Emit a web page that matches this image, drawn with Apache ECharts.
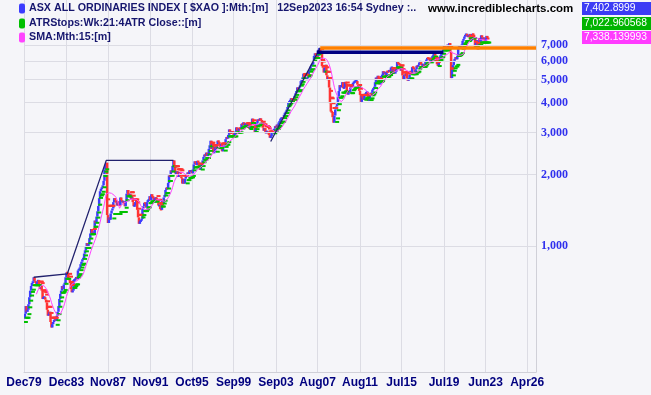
<!DOCTYPE html>
<html>
<head>
<meta charset="utf-8">
<script src="https://cdn.jsdelivr.net/npm/echarts@6/dist/echarts.min.js"></script>
<style>
html,body{margin:0;padding:0;background:#f5f5f9;}
#chart{width:651px;height:395px;}
</style>
</head>
<body>
<div id="chart"></div>
<script>
// Monthly closes of the ASX All Ordinaries, Dec 1979 .. Sep 2023
const closes = [
500,
520,560,530,540,570,610,650,680,700,710,740,715,
700,690,710,720,690,660,680,650,600,610,610,596,
580,540,510,520,530,480,455,470,480,490,500,485,
510,530,560,600,630,650,680,660,690,700,740,775,
770,730,720,700,660,640,650,720,720,730,740,726,
790,800,810,840,860,880,890,930,960,1000,1030,1003,
1020,1080,1130,1180,1130,1150,1120,1280,1250,1330,1400,1473,
1590,1700,1740,1760,1800,1880,2100,2190,2240,1350,1250,1318,
1290,1370,1410,1440,1530,1590,1560,1520,1480,1540,1490,1487,
1600,1560,1530,1540,1500,1470,1550,1660,1720,1620,1640,1650,
1580,1600,1530,1470,1480,1530,1570,1420,1320,1240,1270,1280,
1300,1440,1470,1520,1510,1450,1530,1560,1560,1620,1560,1651,
1610,1600,1560,1580,1600,1560,1540,1480,1480,1430,1420,1550,
1510,1600,1640,1720,1760,1740,1840,1980,1960,2080,2040,2173,
2290,2180,2020,2030,2060,1950,2000,2050,1960,1930,1830,1912,
1830,1920,1960,1990,2040,1990,2080,2050,2080,2020,2100,2203,
2270,2230,2190,2280,2250,2160,2090,2190,2220,2290,2370,2424,
2390,2470,2390,2430,2560,2650,2770,2560,2710,2470,2480,2616,
2560,2680,2770,2740,2650,2610,2690,2500,2590,2640,2720,2813,
2870,2830,2930,3090,2990,2980,3040,2990,2930,2940,3030,3153,
3070,3050,3130,3120,3110,3260,3240,3310,3220,3250,3250,3155,
3270,3280,3100,3240,3300,3430,3300,3220,3000,3190,3280,3360,
3400,3380,3440,3360,3340,3140,3050,3130,2980,3020,3030,2976,
2940,2850,2890,3010,3010,3010,3110,3190,3150,3240,3170,3306,
3340,3430,3440,3450,3440,3560,3630,3640,3740,3840,4000,4053,
4100,4180,4100,3980,4120,4280,4380,4480,4640,4480,4640,4709,
4930,5000,5110,5300,5030,5070,4980,5070,5150,5420,5470,5670,
5770,5790,5980,6290,6450,6340,6290,6270,6680,6780,6600,6421,
5697,5631,5355,5598,5774,5215,4979,5120,4632,3982,3672,3659,
3478,3297,3532,3745,3862,3948,4249,4478,4742,4642,4745,4883,
4602,4631,4893,4808,4419,4325,4500,4410,4637,4741,4677,4847,
4869,4926,4929,4930,4765,4659,4486,4313,4032,4296,4194,4111,
4302,4365,4420,4434,4076,4135,4310,4348,4406,4539,4580,4665,
4879,5104,4980,5191,4926,4775,5035,5174,5218,5425,5320,5353,
5190,5404,5403,5388,5492,5396,5623,5625,5292,5526,5313,5389,
5551,5929,5862,5790,5777,5451,5682,5208,5022,5240,5198,5345,
5055,4948,5083,5253,5447,5310,5644,5632,5525,5363,5522,5719,
5675,5761,5904,5976,5788,5764,5773,5776,5744,5970,6057,6167,
6146,6117,5897,6113,6185,6289,6359,6433,6301,5939,5802,5709,
5935,6239,6295,6460,6493,6700,6913,6701,6773,6800,7020,6802,
7121,6552,5076,5522,5756,6001,6111,6208,6082,6297,6837,6851,
6870,6926,6986,7277,7415,7585,7688,7791,7605,7624,7589,7779,
7299,7349,7788,7720,7539,6815,7238,7288,6699,7085,7482,7221,
7677,7508,7389,7506,7282,7404,7632,7480,7403
];

// x-axis tick labels
const xTickLabels = ['Dec79','Dec83','Nov87','Nov91','Oct95','Sep99','Sep03','Aug07','Aug11','Jul15','Jul19','Jun23','Apr26'];
// y-axis grid/label values
const yTickValues = [1000, 2000, 3000, 4000, 5000, 6000, 7000];

// drawn trend lines [category, value]
const trendThinEarly = [['Nov80', 740], ['Jan84', 765], ['Sep87', 2290], ['Jan94', 2290]];
const trendThinLate  = [['Mar03', 2750], ['Nov07', 6800]];
const trendNavy      = [['Jul07', 6520], ['Jun19', 6520]];
const trendOrange    = [['Nov07', 6790], ['END', 6790]];

const legendLines = [
  'ASX ALL ORDINARIES INDEX [ $XAO ]:Mth:[m]   12Sep2023 16:54 Sydney :..',
  'ATRStops:Wk:21:4ATR Close::[m]',
  'SMA:Mth:15:[m]'
];
const lastValues = ['7,402.8999', '7,022.960568', '7,338.139993'];
const siteName = 'www.incrediblecharts.com';

const FUTURE_SLOTS = 54;
const FUTURE_TICK_SLOT = 44; // 'Apr26' slot in the future area

// ---- categories ----
const MON = ['Jan','Feb','Mar','Apr','May','Jun','Jul','Aug','Sep','Oct','Nov','Dec'];
const categories = [];
for (let k = 0; k < closes.length; k++) {
  const m = 11 + k;
  const yy = (79 + Math.floor(m / 12)) % 100;
  categories.push(MON[m % 12] + String(yy).padStart(2, '0'));
}
for (let j = 1; j <= FUTURE_SLOTS; j++) {
  categories.push(j === FUTURE_TICK_SLOT ? xTickLabels[xTickLabels.length - 1] : 'f' + j);
}
const catIndex = name => name === 'END' ? categories.length - 1 : categories.indexOf(name);
const tickSet = new Set(xTickLabels);

// ---- OHLC-style bars: open = previous close ----
const barData = closes.map((c, i) => [i, i ? closes[i - 1] : c, c]);

// ---- SMA 15 ----
const sma = closes.map((c, i) => {
  if (i < 14) return null;
  let s = 0; for (let k = i - 14; k <= i; k++) s += closes[k];
  return [i, s / 15];
}).filter(Boolean);

// ---- ATR trailing stops (approximated from monthly close changes) ----
const atrStops = [];
(function () {
  const mult = 2, period = 21;
  let up = true, stop = null;
  for (let i = 1; i < closes.length; i++) {
    let s = 0, n = 0;
    for (let k = Math.max(1, i - period + 1); k <= i; k++) { s += Math.abs(closes[k] - closes[k - 1]); n++; }
    const atr = s / n, c = closes[i];
    if (stop === null) { stop = c - mult * atr; }
    else if (up) {
      if (c < stop) { up = false; stop = c + mult * atr; }
      else stop = Math.max(stop, c - mult * atr);
    } else {
      if (c > stop) { up = true; stop = c - mult * atr; }
      else stop = Math.min(stop, c + mult * atr);
    }
    atrStops.push([i, stop, up ? 1 : 0]);
  }
})();

const BLUE = '#3c3cff', RED = '#ff3434', GREEN = '#00c000', MAGENTA = '#ff44ff';

const toLine = arr => arr.map(p => [catIndex(p[0]), p[1]]);
const fmt = v => String(v).replace(/\B(?=(\d{3})+(?!\d))/g, ',');

const chart = echarts.init(document.getElementById('chart'), null, {renderer: 'canvas'});

const graphic = [];
const markerColors = [BLUE, GREEN, MAGENTA];
const legendY = [8.5, 23.5, 37.5];
legendLines.forEach((t, i) => {
  graphic.push({type: 'rect', shape: {x: 19, y: legendY[i] - 5, width: 6, height: 10, r: 2}, style: {fill: markerColors[i]}, z: 100});
  graphic.push({type: 'text', x: 29, y: legendY[i], style: {text: t, fill: '#16166e', fontSize: 10.7, fontWeight: 'bold', fontFamily: 'Liberation Sans, Arial', verticalAlign: 'middle'}, z: 100});
});
graphic.push({type: 'text', x: 428, y: 8.5, style: {text: siteName, fill: '#000000', fontSize: 11.5, fontWeight: 'bold', fontFamily: 'Liberation Sans, Arial', verticalAlign: 'middle'}, z: 100});
const boxColors = ['#3c3cf5', '#00b400', '#ff3cff'];
const boxY = [2, 17, 31];
lastValues.forEach((t, i) => {
  graphic.push({type: 'rect', shape: {x: 582, y: boxY[i], width: 69, height: 13}, style: {fill: boxColors[i]}, z: 100});
  graphic.push({type: 'text', x: 584, y: boxY[i] + 6.5, style: {text: t, fill: '#ffffff', fontSize: 10.3, fontFamily: 'Liberation Sans, Arial', verticalAlign: 'middle'}, z: 101});
});

const option = {
  animation: false,
  backgroundColor: '#f5f5f9',
  grid: {left: 24, right: 115, top: 0, bottom: 23},
  xAxis: {
    type: 'category',
    data: categories,
    boundaryGap: false,
    axisLine: {show: true, lineStyle: {color: '#d0d0d8'}},
    axisTick: {show: false},
    axisLabel: {
      interval: (i, v) => tickSet.has(v),
      color: '#00007f', fontWeight: 'bold', fontSize: 12,
      fontFamily: 'Liberation Sans Narrow, Liberation Sans, Arial',
      margin: 5
    },
    splitLine: {show: true, interval: (i, v) => tickSet.has(v), lineStyle: {color: '#dcdce4', width: 1}}
  },
  yAxis: {
    type: 'log', logBase: 10, min: 296, max: 10800, position: 'right',
    axisLine: {show: true, lineStyle: {color: '#d0d0d8'}},
    axisTick: {show: false}, axisLabel: {show: false}, splitLine: {show: false}
  },
  graphic: graphic,
  series: [
    {
      type: 'line', data: [], z: 1, silent: true,
      markLine: {
        silent: true, symbol: ['none', 'none'], animation: false,
        lineStyle: {color: '#dcdce4', type: 'solid', width: 1},
        label: {
          show: true, position: 'end', distance: 5,
          formatter: p => fmt(p.value),
          color: '#3030ee', fontWeight: 'bold', fontSize: 12,
          fontFamily: 'Liberation Serif, Times New Roman, serif'
        },
        data: yTickValues.map(v => ({yAxis: v}))
      }
    },
    {
      type: 'custom', z: 3, clip: true,
      data: barData,
      encode: {x: 0, y: [1, 2]},
      renderItem: function (params, api) {
        const i = api.value(0), o = api.value(1), c = api.value(2);
        const a = api.coord([i, o]), b = api.coord([i, c]);
        let y0 = Math.min(a[1], b[1]), h = Math.abs(a[1] - b[1]);
        if (h < 2) { y0 -= (2 - h) / 2; h = 2; }
        return {type: 'rect', shape: {x: a[0] - 1.25, y: y0, width: 2.5, height: h}, style: {fill: c >= o ? BLUE : RED}};
      }
    },
    {
      type: 'custom', z: 4, clip: true,
      data: atrStops,
      encode: {x: 0, y: 1},
      renderItem: function (params, api) {
        const i = api.value(0), s = api.value(1), up = api.value(2);
        const p = api.coord([i, s]);
        return {type: 'rect', shape: {x: p[0] - 1, y: p[1] - 1, width: 4, height: 2}, style: {fill: up ? GREEN : RED}};
      }
    },
    {
      type: 'line', z: 5, data: sma, symbol: 'none', silent: true,
      lineStyle: {color: MAGENTA, width: 1}
    },
    {type: 'line', z: 6, data: toLine(trendThinEarly), symbol: 'none', silent: true, lineStyle: {color: '#22226e', width: 1.3}},
    {type: 'line', z: 6, data: toLine(trendThinLate), symbol: 'none', silent: true, lineStyle: {color: '#22226e', width: 1.3}},
    {type: 'line', z: 6, data: toLine(trendNavy), symbol: 'none', silent: true, lineStyle: {color: '#000080', width: 3.5}},
    {type: 'line', z: 7, data: toLine(trendOrange), symbol: 'none', silent: true, lineStyle: {color: '#ff8000', width: 3.5}}
  ]
};
chart.setOption(option);
</script>
</body>
</html>
